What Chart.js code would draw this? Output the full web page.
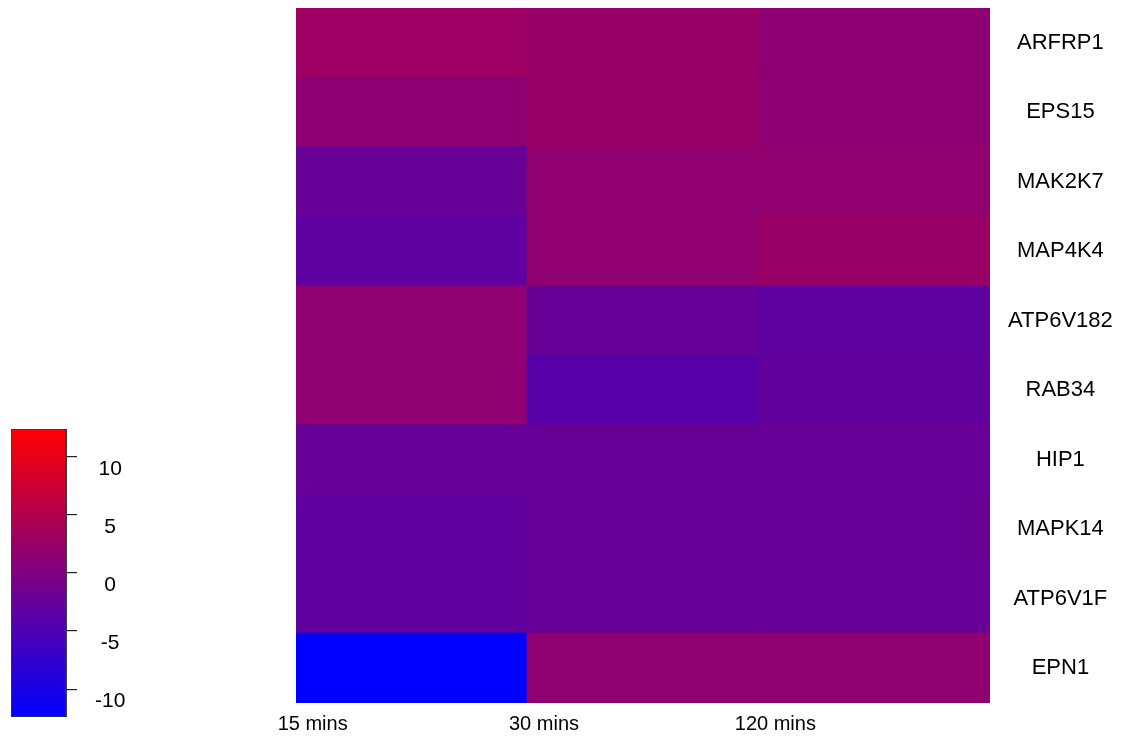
<!DOCTYPE html>
<html>
<head>
<meta charset="utf-8">
<script src="https://cdn.jsdelivr.net/npm/chart.js@4/dist/chart.umd.min.js"></script>
<style>
  html, body { margin: 0; padding: 0; background: #fff; }
  #wrap { position: relative; width: 1137px; height: 737px; overflow: hidden; }
  #heat { position: absolute; left: 0; top: 0; }
  #bar { position: absolute; left: 0; top: 0; }
</style>
</head>
<body>
<div id="wrap">
  <canvas id="heat" width="1137" height="737"></canvas>
  <canvas id="bar" width="140" height="737"></canvas>
</div>
<script>
// Time points (columns) and genes (rows, top to bottom)
const timePoints = ['15 mins', '30 mins', '120 mins'];
const genes = ['ARFRP1', 'EPS15', 'MAK2K7', 'MAP4K4', 'ATP6V182', 'RAB34', 'HIP1', 'MAPK14', 'ATP6V1F', 'EPN1'];

// Values per time point, one entry per gene in the order above
const values15 = [2.9, 1.4, -2.3, -3.2, 1.5, 1.5, -2.3, -3.0, -3.0, -12.4];
const values30 = [2.4, 2.4, 1.6, 1.6, -2.2, -3.8, -2.2, -2.2, -2.3, 1.5];
const values120 = [1.4, 1.4, 1.6, 2.4, -3.2, -2.9, -2.3, -2.2, -2.3, 1.5];

// Colour key range and labelled ticks
const scaleMin = -12.4;
const scaleMax = 12.4;
const keyTicks = [-10, -5, 0, 5, 10];

const FONT = "'Liberation Sans', Arial, sans-serif";

// Linear blue -> red colour ramp
function heatColor(v) {
  let t = (v - scaleMin) / (scaleMax - scaleMin);
  t = Math.max(0, Math.min(1, t));
  const r = Math.round(255 * t);
  const b = Math.round(255 * (1 - t));
  return `rgb(${r},0,${b})`;
}

// Keep the plot area exactly where the layout padding puts it
function noEdgePadding(scale) {
  scale.paddingTop = 0;
  scale.paddingBottom = 0;
  scale.paddingLeft = 0;
  scale.paddingRight = 0;
}

// One stacked dataset per gene, bottom row first
const columns = [values15, values30, values120];
const datasets = genes.map((g, gi) => ({
  label: g,
  data: timePoints.map(() => 1),
  backgroundColor: columns.map(col => heatColor(col[gi])),
  borderWidth: 0,
  inflateAmount: 0.7,
  barPercentage: 1,
  categoryPercentage: 1
})).reverse();
const genesBottomUp = genes.slice().reverse();

new Chart(document.getElementById('heat'), {
  type: 'bar',
  data: { labels: timePoints, datasets },
  options: {
    responsive: false,
    animation: false,
    layout: { padding: { left: 296, top: 8, right: 0, bottom: 0 } },
    plugins: { legend: { display: false }, tooltip: { enabled: false } },
    scales: {
      x: {
        stacked: true,
        grid: { display: false, drawTicks: false },
        border: { display: false },
        ticks: {
          color: '#000',
          font: { family: FONT, size: 20 },
          padding: 9,
          labelOffset: -99,
          maxRotation: 0
        },
        afterFit(scale) { scale.height = 34; noEdgePadding(scale); }
      },
      y: {
        stacked: true,
        position: 'right',
        min: 0,
        max: genes.length,
        grid: { display: false, drawTicks: false },
        border: { display: false },
        afterBuildTicks(scale) {
          scale.ticks = genesBottomUp.map((g, i) => ({ value: i + 0.5 }));
        },
        ticks: {
          color: '#000',
          font: { family: FONT, size: 22 },
          padding: 18,
          crossAlign: 'center',
          callback: (v) => genesBottomUp[Math.floor(v)]
        },
        afterFit(scale) { scale.width = 147; noEdgePadding(scale); }
      }
    }
  }
});

// Colour key: a single floating bar filled with the ramp
new Chart(document.getElementById('bar'), {
  type: 'bar',
  data: {
    labels: [''],
    datasets: [{
      data: [[scaleMin, scaleMax]],
      backgroundColor(ctx) {
        const chart = ctx.chart;
        const ys = chart.scales.y;
        if (!chart.chartArea || !ys) return 'rgb(128,0,128)';
        const g = chart.ctx.createLinearGradient(0, ys.getPixelForValue(scaleMin), 0, ys.getPixelForValue(scaleMax));
        g.addColorStop(0, heatColor(scaleMin));
        g.addColorStop(0.5, heatColor((scaleMin + scaleMax) / 2));
        g.addColorStop(1, heatColor(scaleMax));
        return g;
      },
      borderColor: '#3a3a3a',
      borderWidth: 1,
      borderSkipped: false,
      barPercentage: 1,
      categoryPercentage: 1
    }]
  },
  options: {
    responsive: false,
    animation: false,
    layout: { padding: { left: 11, top: 429, right: 14, bottom: 20 } },
    plugins: { legend: { display: false }, tooltip: { enabled: false } },
    scales: {
      x: { display: false },
      y: {
        position: 'right',
        min: scaleMin,
        max: scaleMax,
        afterBuildTicks(scale) {
          scale.ticks = keyTicks.map(v => ({ value: v }));
        },
        grid: { drawOnChartArea: false, tickLength: 11, color: '#222', lineWidth: 1.2 },
        border: { display: true, color: '#3a3a3a' },
        ticks: {
          color: '#000',
          font: { family: FONT, size: 21 },
          padding: 18,
          labelOffset: 12,
          crossAlign: 'center'
        },
        afterFit(scale) { scale.width = 60; noEdgePadding(scale); }
      }
    }
  }
});
</script>
</body>
</html>
